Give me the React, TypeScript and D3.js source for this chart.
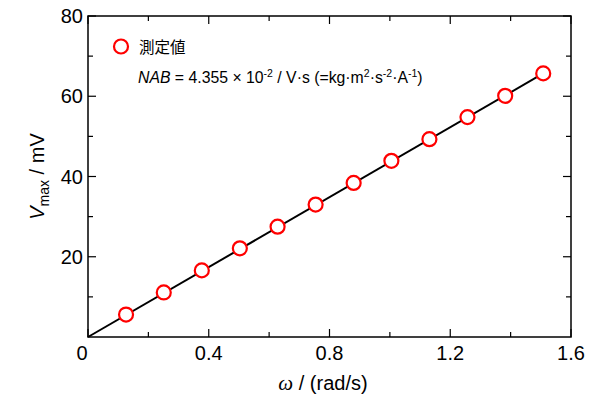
import React from "react";
import * as d3 from "d3";

const omega = [0.126, 0.251, 0.377, 0.503, 0.628, 0.754, 0.880, 1.005, 1.131, 1.257, 1.382, 1.508];
const vmax = [5.6, 11.1, 16.6, 22.1, 27.5, 33.0, 38.4, 43.9, 49.3, 54.8, 60.1, 65.7];
const fitX = [0, 1.508];
const fitY = [0, 65.68];
const xTicks = [0, 0.4, 0.8, 1.2, 1.6];
const xTickLabels = ["0", "0.4", "0.8", "1.2", "1.6"];
const xMinor = [0.2, 0.6, 1.0, 1.4];
const yTicks = [20, 40, 60, 80];
const yMinor = [10, 30, 50, 70];
const legendLabel = "測定値";

const W = 596, H = 401;
const L = 88, R = 571, T = 16, B = 337;
const font = "Arial, 'Liberation Sans', sans-serif";

export default function App() {
  const x = d3.scaleLinear().domain([0, 1.6]).range([L, R]);
  const y = d3.scaleLinear().domain([0, 80]).range([B, T]);
  const line = d3.line<number>().x((_, i) => x(fitX[i])).y((d) => y(d));
  const red = "#ff0000";
  return (
    <svg width={W} height={H} style={{ position: "absolute", left: 0, top: 0 }} fontFamily={font}>
      <rect x={0} y={0} width={W} height={H} fill="#fff" />
      <path d={line(fitY) || ""} stroke="#000" strokeWidth={2} fill="none" />
      <rect x={L} y={T} width={R - L} height={B - T} fill="none" stroke="#000" strokeWidth={1.5} />
      {xTicks.map((t) => (
        <g key={"xt" + t}>
          <line x1={x(t)} x2={x(t)} y1={B} y2={B - 8} stroke="#000" strokeWidth={1.2} />
          <line x1={x(t)} x2={x(t)} y1={T} y2={T + 8} stroke="#000" strokeWidth={1.2} />
        </g>
      ))}
      {xMinor.map((t) => (
        <g key={"xm" + t}>
          <line x1={x(t)} x2={x(t)} y1={B} y2={B - 5} stroke="#000" strokeWidth={1.2} />
          <line x1={x(t)} x2={x(t)} y1={T} y2={T + 5} stroke="#000" strokeWidth={1.2} />
        </g>
      ))}
      {xTicks.map((t, i) => (
        <text key={"xl" + t} x={x(t) - (i === 0 ? 6 : 0)} y={B + 23} textAnchor="middle" fontSize={20}>
          {xTickLabels[i]}
        </text>
      ))}
      {yTicks.map((t) => (
        <g key={"yt" + t}>
          <line x1={L} x2={L + 8} y1={y(t)} y2={y(t)} stroke="#000" strokeWidth={1.2} />
          <line x1={R} x2={R - 8} y1={y(t)} y2={y(t)} stroke="#000" strokeWidth={1.2} />
          <text x={L - 5} y={y(t) + 7} textAnchor="end" fontSize={20}>{t}</text>
        </g>
      ))}
      {yMinor.map((t) => (
        <g key={"ym" + t}>
          <line x1={L} x2={L + 5} y1={y(t)} y2={y(t)} stroke="#000" strokeWidth={1.2} />
          <line x1={R} x2={R - 5} y1={y(t)} y2={y(t)} stroke="#000" strokeWidth={1.2} />
        </g>
      ))}
      {omega.map((w, i) => (
        <circle key={"p" + i} cx={x(w)} cy={y(vmax[i])} r={7} fill="#fff" stroke={red} strokeWidth={2.2} />
      ))}
      <circle cx={121} cy={46.5} r={7} fill="#fff" stroke={red} strokeWidth={2.2} />
      <text x={139} y={53} fontSize={15.5} fontFamily="'Noto Sans CJK JP', sans-serif">{legendLabel}</text>
      <text x={138} y={83} fontSize={15.8}>
        <tspan fontStyle="italic">NAB</tspan>
        <tspan> = 4.355 × 10</tspan>
        <tspan dy={-6} fontSize={10.5}>-2</tspan>
        <tspan dy={6}> / V·s (=kg·m</tspan>
        <tspan dy={-6} fontSize={10.5}>2</tspan>
        <tspan dy={6}>·s</tspan>
        <tspan dy={-6} fontSize={10.5}>-2</tspan>
        <tspan dy={6}>·A</tspan>
        <tspan dy={-6} fontSize={10.5}>-1</tspan>
        <tspan dy={6}>)</tspan>
      </text>
      <text x={323} y={390} textAnchor="middle" fontSize={20}>
        <tspan fontStyle="italic" fontFamily="'Liberation Serif', serif" fontSize={21}>ω</tspan>
        <tspan> /  (rad/s)</tspan>
      </text>
      <text transform={`translate(44,${(T + B) / 2}) rotate(-90)`} textAnchor="middle" fontSize={20}>
        <tspan fontStyle="italic">V</tspan>
        <tspan dy={5} fontSize={14}>max</tspan>
        <tspan dy={-5}> / mV</tspan>
      </text>
    </svg>
  );
}
